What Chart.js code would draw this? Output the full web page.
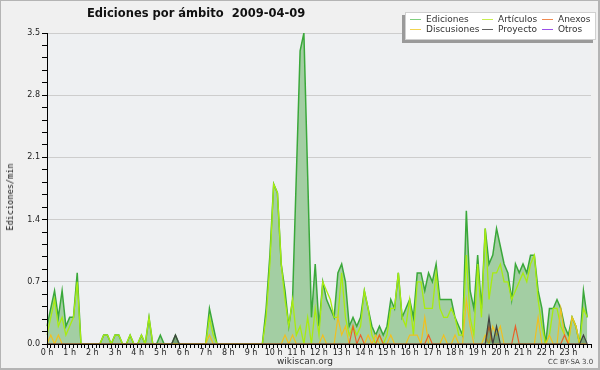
<!DOCTYPE html>
<html>
<head>
<meta charset="utf-8">
<script src="https://cdn.jsdelivr.net/npm/chart.js@4/dist/chart.umd.min.js"></script>
<style>
  body { margin: 0; background: #fff; }
  #wrap { position: relative; width: 600px; height: 370px; background: #f0f0f0; box-sizing: border-box; border: 1px solid #b4b4b4; border-right-width: 2px; border-bottom-width: 2px; overflow: hidden; }
  #myChart { position: absolute; left: -1px; top: -1px; }
  #title { position: absolute; left: 86px; top: 5px; font: bold 11.5px "DejaVu Sans", sans-serif; color: #111; white-space: pre; }
  #ytitle { position: absolute; left: 9px; top: 196px; transform: translate(-50%, -50%) rotate(-90deg); font: 8.6px "DejaVu Sans Mono", monospace; color: #111; white-space: nowrap; }
  #legend { position: absolute; left: 404px; top: 11px; width: 189px; height: 26px; background: #fff; border: 1px solid #d0d0d0; box-shadow: -3px 3px 0 #9a9a9a; font: 9px "DejaVu Sans", sans-serif; color: #333; }
  #legend .item { position: absolute; white-space: nowrap; }
  #legend .sw { display: inline-block; width: 11px; height: 1px; vertical-align: middle; margin-right: 5px; }
  #site { position: absolute; left: 276px; top: 355px; font: 9px "DejaVu Sans", sans-serif; color: #333; }
  #lic { position: absolute; left: 547px; top: 357px; font: 7px "DejaVu Sans", sans-serif; color: #444; }
</style>
</head>
<body>
<div id="wrap">
  <canvas id="myChart" width="600" height="370"></canvas>
  <div id="title">Ediciones por ámbito  2009-04-09</div>
  <div id="ytitle">Ediciones/min</div>
  <div id="legend"></div>
  <div id="site">wikiscan.org</div>
  <div id="lic">CC BY-SA 3.0</div>
</div>
<script>
// one value every 10 minutes, 0:00 -> 23:50
const hourLabels = ['0 h', '1 h', '2 h', '3 h', '4 h', '5 h', '6 h', '7 h', '8 h', '9 h', '10 h', '11 h',
  '12 h', '13 h', '14 h', '15 h', '16 h', '17 h', '18 h', '19 h', '20 h', '21 h', '22 h', '23 h'];

const ediciones = [
  0.2, 0.4, 0.6, 0.3, 0.6, 0.2, 0.3, 0.3, 0.8, 0, 0, 0,
  0, 0, 0, 0.1, 0.1, 0, 0.1, 0.1, 0, 0, 0.1, 0,
  0, 0.1, 0, 0.3, 0, 0, 0.1, 0, 0, 0, 0.1, 0,
  0, 0, 0, 0, 0, 0, 0, 0.4, 0.2, 0, 0, 0,
  0, 0, 0, 0, 0, 0, 0, 0, 0, 0, 0.4, 1.0,
  1.8, 1.7, 0.9, 0.6, 0.2, 0.5, 1.9, 3.3, 3.5, 1.9, 0.3, 0.9,
  0.2, 0.7, 0.5, 0.4, 0.3, 0.8, 0.9, 0.7, 0.2, 0.3, 0.2, 0.3,
  0.6, 0.4, 0.2, 0.1, 0.2, 0.1, 0.2, 0.5, 0.4, 0.8, 0.3, 0.4,
  0.5, 0.3, 0.8, 0.8, 0.6, 0.8, 0.7, 0.9, 0.5, 0.5, 0.5, 0.5,
  0.3, 0.2, 0.1, 1.5, 0.6, 0.4, 1.0, 0.4, 1.3, 0.9, 1.0, 1.3,
  1.1, 0.9, 0.8, 0.5, 0.9, 0.8, 0.9, 0.8, 1.0, 1.0, 0.6, 0.4,
  0, 0.4, 0.4, 0.5, 0.4, 0.2, 0.1, 0.3, 0.2, 0, 0.6, 0.3
];

const articulos = [
  0.1, 0.3, 0.5, 0.2, 0.3, 0.1, 0.2, 0.3, 0.7, 0, 0, 0,
  0, 0, 0, 0.1, 0.1, 0, 0.1, 0.1, 0, 0, 0.1, 0,
  0, 0.1, 0, 0.3, 0, 0, 0, 0, 0, 0, 0, 0,
  0, 0, 0, 0, 0, 0, 0, 0.3, 0.1, 0, 0, 0,
  0, 0, 0, 0, 0, 0, 0, 0, 0, 0, 0.3, 0.9,
  1.8, 1.7, 0.9, 0.5, 0.2, 0.5, 0.1, 0.2, 0, 0.3, 0, 0.4,
  0.1, 0.7, 0.6, 0.5, 0.3, 0.3, 0.8, 0.3, 0.1, 0.2, 0.1, 0.2,
  0.6, 0.4, 0.1, 0, 0.1, 0, 0.1, 0.4, 0.4, 0.8, 0.3, 0.2,
  0.5, 0.1, 0.7, 0.7, 0.4, 0.4, 0.4, 0.8, 0.4, 0.3, 0.3, 0.4,
  0.3, 0.1, 0.1, 1.0, 0.3, 0.1, 0.9, 0.3, 1.3, 0.5, 0.8, 0.8,
  0.9, 0.7, 0.7, 0.5, 0.6, 0.7, 0.8, 0.7, 0.9, 1.0, 0.5, 0.2,
  0, 0.1, 0.4, 0.4, 0.2, 0.1, 0, 0.3, 0.2, 0, 0.4, 0.3
];

const discusiones = [
  0, 0.1, 0, 0.1, 0, 0, 0, 0, 0, 0, 0, 0,
  0, 0, 0, 0, 0, 0, 0, 0, 0, 0, 0, 0,
  0, 0, 0, 0, 0, 0, 0, 0, 0, 0, 0, 0,
  0, 0, 0, 0, 0, 0, 0, 0.1, 0, 0, 0, 0,
  0, 0, 0, 0, 0, 0, 0, 0, 0, 0, 0, 0,
  0, 0, 0, 0.1, 0, 0.1, 0, 0, 0, 0, 0, 0,
  0, 0.1, 0, 0, 0, 0.3, 0.1, 0.2, 0, 0, 0, 0,
  0, 0.1, 0, 0.1, 0, 0, 0, 0.1, 0, 0, 0, 0,
  0.1, 0.1, 0.1, 0, 0.3, 0, 0, 0, 0, 0.1, 0, 0,
  0.1, 0, 0, 0.5, 0.2, 0, 0, 0, 0.1, 0, 0.2, 0.1,
  0.2, 0, 0, 0, 0, 0, 0, 0, 0, 0, 0.3, 0,
  0, 0.1, 0, 0, 0.4, 0.1, 0, 0.3, 0.2, 0, 0, 0
];

const anexos = [
  0, 0, 0, 0, 0, 0, 0, 0, 0, 0, 0, 0,
  0, 0, 0, 0, 0, 0, 0, 0, 0, 0, 0, 0,
  0, 0, 0, 0, 0, 0, 0, 0, 0, 0, 0, 0,
  0, 0, 0, 0, 0, 0, 0, 0, 0, 0, 0, 0,
  0, 0, 0, 0, 0, 0, 0, 0, 0, 0, 0, 0,
  0, 0, 0, 0, 0, 0, 0, 0, 0, 0, 0, 0,
  0, 0, 0, 0, 0, 0, 0, 0, 0, 0.2, 0, 0.1,
  0, 0, 0, 0, 0.1, 0, 0, 0, 0, 0, 0, 0,
  0, 0, 0, 0, 0, 0.1, 0, 0, 0, 0, 0, 0,
  0, 0, 0, 0, 0, 0, 0, 0, 0, 0.2, 0, 0,
  0, 0, 0, 0, 0.2, 0, 0, 0, 0, 0, 0, 0,
  0, 0, 0, 0, 0, 0.1, 0, 0, 0, 0, 0, 0
];

const proyecto = [
  0, 0, 0, 0, 0, 0, 0, 0, 0, 0, 0, 0,
  0, 0, 0, 0, 0, 0, 0, 0, 0, 0, 0, 0,
  0, 0, 0, 0, 0, 0, 0, 0, 0, 0, 0.1, 0,
  0, 0, 0, 0, 0, 0, 0, 0, 0, 0, 0, 0,
  0, 0, 0, 0, 0, 0, 0, 0, 0, 0, 0, 0,
  0, 0, 0, 0, 0, 0, 0, 0, 0, 0, 0, 0,
  0, 0, 0, 0, 0, 0, 0, 0, 0, 0, 0, 0,
  0, 0, 0, 0, 0, 0, 0, 0, 0, 0, 0, 0,
  0, 0, 0, 0, 0, 0, 0, 0, 0, 0, 0, 0,
  0, 0, 0, 0, 0, 0, 0, 0, 0, 0.3, 0, 0.2,
  0, 0, 0, 0, 0, 0, 0, 0, 0, 0, 0, 0,
  0, 0, 0, 0, 0, 0, 0, 0, 0, 0, 0.1, 0
];

// legend entries, in the order of the reference box
const legendNames = ['Ediciones', 'Artículos', 'Anexos', 'Discusiones', 'Proyecto', 'Otros'];
const legendColors = ['#7fcf7f', '#c8ee50', '#f08a50', '#f2d450', '#606060', '#9a50e8'];

// 24 hours * 6 slots + closing tick at 24 h
const labels = [];
for (let h = 0; h < hourLabels.length; h++) {
  for (let m = 0; m < 6; m++) labels.push(m === 0 ? hourLabels[h] : '');
}
labels.push('');

const isMajor = (v) => Math.abs(v / 0.7 - Math.round(v / 0.7)) < 1e-6;

const plotBg = {
  id: 'plotBg',
  beforeDraw(chart) {
    const a = chart.chartArea;
    const c = chart.ctx;
    c.save();
    c.fillStyle = '#eef0f2';
    c.fillRect(a.left, a.top, a.right - a.left, a.bottom - a.top);
    c.restore();
  },
  afterDatasetsDraw(chart) {
    // axes drawn over the zero lines
    const a = chart.chartArea;
    const c = chart.ctx;
    c.save();
    c.strokeStyle = '#000';
    c.lineWidth = 1;
    c.beginPath();
    c.moveTo(a.left + 0.5, a.top);
    c.lineTo(a.left + 0.5, a.bottom + 0.5);
    c.lineTo(a.right, a.bottom + 0.5);
    c.stroke();
    c.restore();
  }
};

const ctx = document.getElementById('myChart');

new Chart(ctx, {
  type: 'line',
  data: {
    labels: labels,
    datasets: [
      { label: 'Ediciones', data: ediciones, borderColor: '#3aa83a', backgroundColor: '#a3cea3', fill: 'origin', borderWidth: 1.5, order: 5 },
      { label: 'Artículos', data: articulos, borderColor: '#a8ec10', borderWidth: 1.3, order: 4 },
      { label: 'Discusiones', data: discusiones, borderColor: '#f0c020', borderWidth: 1.2, order: 3 },
      { label: 'Anexos', data: anexos, borderColor: '#e8602a', borderWidth: 1.2, order: 2 },
      { label: 'Proyecto', data: proyecto, borderColor: '#404040', backgroundColor: 'rgba(40,90,40,0.35)', fill: 'origin', borderWidth: 1.2, order: 1 },
    ],
  },
  options: {
    responsive: false,
    animation: false,
    devicePixelRatio: 1,
    layout: { padding: { top: 33, right: 9, left: 0, bottom: 0 } },
    elements: { point: { radius: 0 }, line: { tension: 0 } },
    plugins: { legend: { display: false }, tooltip: { enabled: false } },
    scales: {
      x: {
        type: 'category',
        offset: false,
        grid: { drawOnChartArea: false, color: '#000', tickLength: 4 },
        border: { display: false },
        ticks: {
          autoSkip: false,
          maxRotation: 0,
          padding: 0,
          color: '#222',
          font: { family: 'DejaVu Sans', size: 8 },
        },
        afterFit(scale) { scale.height = 26; },
      },
      y: {
        min: 0,
        max: 3.5,
        border: { display: false },
        grid: {
          color: (c) => (isMajor(c.tick.value) && c.tick.value > 0 ? '#cdcdcd' : 'rgba(0,0,0,0)'),
          tickColor: '#000',
          tickLength: 5,
        },
        ticks: {
          stepSize: 0.14,
          autoSkip: false,
          padding: 2,
          color: '#222',
          font: { family: 'DejaVu Sans', size: 8 },
          callback: (v) => (isMajor(v) ? Number(v).toFixed(1) : ''),
        },
        afterFit(scale) { scale.width = 47; },
      },
    },
  },
  plugins: [plotBg],
});

// legend box
const legendEl = document.getElementById('legend');
const colX = [4, 76, 136];
for (let i = 0; i < legendNames.length; i++) {
  const item = document.createElement('div');
  item.className = 'item';
  item.style.left = colX[i % 3] + 'px';
  item.style.top = (i < 3 ? 1 : 11) + 'px';
  item.innerHTML = '<span class="sw" style="background:' + legendColors[i] + '"></span>' + legendNames[i];
  legendEl.appendChild(item);
}
</script>
</body>
</html>
